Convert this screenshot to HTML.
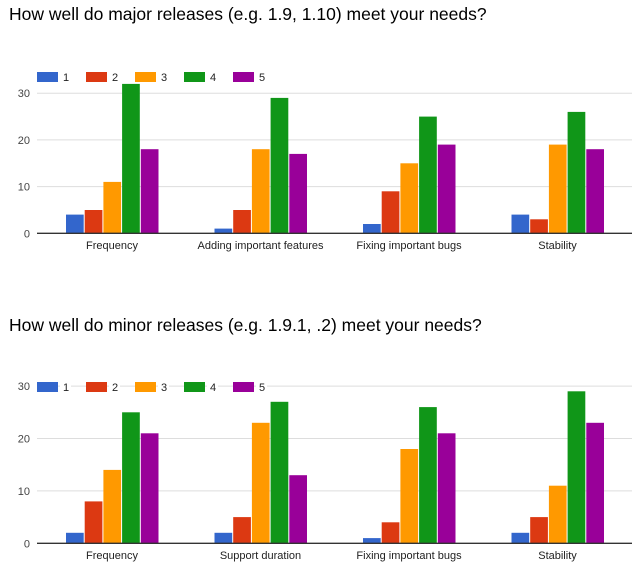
<!DOCTYPE html>
<html><head><meta charset="utf-8"><style>
body{margin:0;background:#fff;width:643px;height:572px;overflow:hidden}
svg{display:block;font-family:"Liberation Sans",Arial,sans-serif}
</style></head><body>
<svg width="643" height="572" viewBox="0 0 643 572" xmlns="http://www.w3.org/2000/svg">
<text x="9" y="20" font-size="17.5" fill="#000">How well do major releases (e.g. 1.9, 1.10) meet your needs?</text>
<text x="9" y="331" font-size="17.5" fill="#000">How well do minor releases (e.g. 1.9.1, .2) meet your needs?</text>

<!-- chart 1 -->
<g stroke="#ddd" stroke-width="1">
<line x1="37" x2="632" y1="186.6" y2="186.6"/><line x1="37" x2="632" y1="139.9" y2="139.9"/><line x1="37" x2="632" y1="93.2" y2="93.2"/>
</g>
<g font-size="11" fill="#444" text-anchor="end">
<text x="30" y="237.3">0</text><text x="30" y="190.6">10</text><text x="30" y="143.9">20</text><text x="30" y="97.2">30</text>
</g>
<g>
<rect x="66" y="214.6" width="17.7" height="18.7" fill="#3366cc"/>
<rect x="84.7" y="210" width="17.7" height="23.3" fill="#dc3912"/>
<rect x="103.4" y="181.9" width="17.7" height="51.4" fill="#ff9900"/>
<rect x="122.1" y="83.9" width="17.7" height="149.4" fill="#109618"/>
<rect x="140.8" y="149.2" width="17.7" height="84.1" fill="#990099"/>
<rect x="214.5" y="228.6" width="17.7" height="4.7" fill="#3366cc"/>
<rect x="233.2" y="210" width="17.7" height="23.3" fill="#dc3912"/>
<rect x="251.9" y="149.2" width="17.7" height="84.1" fill="#ff9900"/>
<rect x="270.6" y="97.9" width="17.7" height="135.4" fill="#109618"/>
<rect x="289.3" y="153.9" width="17.7" height="79.4" fill="#990099"/>
<rect x="363" y="224" width="17.7" height="9.3" fill="#3366cc"/>
<rect x="381.7" y="191.3" width="17.7" height="42" fill="#dc3912"/>
<rect x="400.4" y="163.3" width="17.7" height="70" fill="#ff9900"/>
<rect x="419.1" y="116.6" width="17.7" height="116.7" fill="#109618"/>
<rect x="437.8" y="144.6" width="17.7" height="88.7" fill="#990099"/>
<rect x="511.5" y="214.6" width="17.7" height="18.7" fill="#3366cc"/>
<rect x="530.2" y="219.3" width="17.7" height="14" fill="#dc3912"/>
<rect x="548.9" y="144.6" width="17.7" height="88.7" fill="#ff9900"/>
<rect x="567.6" y="111.9" width="17.7" height="121.4" fill="#109618"/>
<rect x="586.3" y="149.2" width="17.7" height="84.1" fill="#990099"/>
</g>
<line x1="37" x2="632" y1="233.3" y2="233.3" stroke="#333" stroke-width="1.3"/>
<g font-size="11" fill="#222" text-anchor="middle">
<text x="112" y="249">Frequency</text><text x="260.5" y="249">Adding important features</text><text x="409" y="249">Fixing important bugs</text><text x="557.5" y="249">Stability</text>
</g>
<g font-size="11" fill="#222">
<rect x="37" y="72" width="21" height="10" fill="#3366cc"/><text x="63" y="81">1</text>
<rect x="86" y="72" width="21" height="10" fill="#dc3912"/><text x="112" y="81">2</text>
<rect x="135" y="72" width="21" height="10" fill="#ff9900"/><text x="161" y="81">3</text>
<rect x="184" y="72" width="21" height="10" fill="#109618"/><text x="210" y="81">4</text>
<rect x="233" y="72" width="21" height="10" fill="#990099"/><text x="259" y="81">5</text>
</g>

<!-- chart 2 -->
<g stroke="#ddd" stroke-width="1">
<line x1="37" x2="632" y1="490.9" y2="490.9"/><line x1="37" x2="632" y1="438.5" y2="438.5"/><line x1="37" x2="632" y1="386.1" y2="386.1"/>
</g>
<g font-size="11" fill="#444" text-anchor="end">
<text x="30" y="547.3">0</text><text x="30" y="494.9">10</text><text x="30" y="442.5">20</text><text x="30" y="390.1">30</text>
</g>
<g>
<rect x="66" y="532.8" width="17.7" height="10.5" fill="#3366cc"/>
<rect x="84.7" y="501.4" width="17.7" height="41.9" fill="#dc3912"/>
<rect x="103.4" y="469.9" width="17.7" height="73.4" fill="#ff9900"/>
<rect x="122.1" y="412.3" width="17.7" height="131" fill="#109618"/>
<rect x="140.8" y="433.3" width="17.7" height="110" fill="#990099"/>
<rect x="214.5" y="532.8" width="17.7" height="10.5" fill="#3366cc"/>
<rect x="233.2" y="517.1" width="17.7" height="26.2" fill="#dc3912"/>
<rect x="251.9" y="422.8" width="17.7" height="120.5" fill="#ff9900"/>
<rect x="270.6" y="401.8" width="17.7" height="141.5" fill="#109618"/>
<rect x="289.3" y="475.2" width="17.7" height="68.1" fill="#990099"/>
<rect x="363" y="538.1" width="17.7" height="5.2" fill="#3366cc"/>
<rect x="381.7" y="522.3" width="17.7" height="21" fill="#dc3912"/>
<rect x="400.4" y="449" width="17.7" height="94.3" fill="#ff9900"/>
<rect x="419.1" y="407.1" width="17.7" height="136.2" fill="#109618"/>
<rect x="437.8" y="433.3" width="17.7" height="110" fill="#990099"/>
<rect x="511.5" y="532.8" width="17.7" height="10.5" fill="#3366cc"/>
<rect x="530.2" y="517.1" width="17.7" height="26.2" fill="#dc3912"/>
<rect x="548.9" y="485.7" width="17.7" height="57.6" fill="#ff9900"/>
<rect x="567.6" y="391.3" width="17.7" height="152" fill="#109618"/>
<rect x="586.3" y="422.8" width="17.7" height="120.5" fill="#990099"/>
</g>
<line x1="37" x2="632" y1="543.3" y2="543.3" stroke="#333" stroke-width="1.3"/>
<g font-size="11" fill="#222" text-anchor="middle">
<text x="112" y="559">Frequency</text><text x="260.5" y="559">Support duration</text><text x="409" y="559">Fixing important bugs</text><text x="557.5" y="559">Stability</text>
</g>
<g font-size="11" fill="#222">
<rect x="60" y="381" width="11" height="12" fill="#fff"/><rect x="109" y="381" width="11" height="12" fill="#fff"/><rect x="158" y="381" width="11" height="12" fill="#fff"/><rect x="207" y="381" width="11" height="12" fill="#fff"/><rect x="256" y="381" width="11" height="12" fill="#fff"/>
<rect x="37" y="382" width="21" height="10" fill="#3366cc"/><text x="63" y="391">1</text>
<rect x="86" y="382" width="21" height="10" fill="#dc3912"/><text x="112" y="391">2</text>
<rect x="135" y="382" width="21" height="10" fill="#ff9900"/><text x="161" y="391">3</text>
<rect x="184" y="382" width="21" height="10" fill="#109618"/><text x="210" y="391">4</text>
<rect x="233" y="382" width="21" height="10" fill="#990099"/><text x="259" y="391">5</text>
</g>
</svg>
</body></html>
